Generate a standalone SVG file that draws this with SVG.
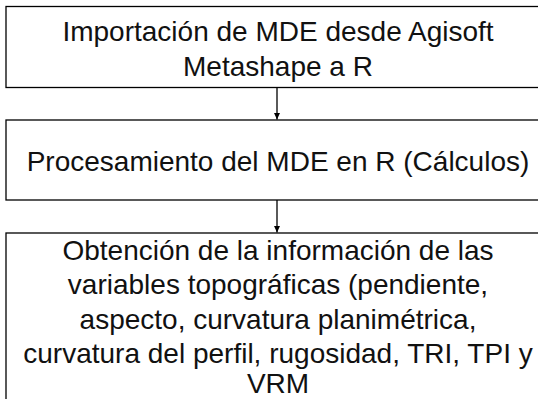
<svg xmlns="http://www.w3.org/2000/svg" width="538" height="399" viewBox="0 0 538 399">
<style>
.box{fill:#fff;stroke:#000;stroke-width:1.3}
.t{font-family:"Liberation Sans",Arial,sans-serif;font-size:28px;fill:#111;text-anchor:middle}
.c{stroke:#000;stroke-width:1.3;fill:none}
</style>
<defs>
<marker id="ah" markerWidth="8" markerHeight="8" refX="7" refY="4" orient="auto" markerUnits="userSpaceOnUse">
<path d="M0,0.8 L7,4 L0,7.2 Z" fill="#000"/>
</marker>
</defs>
<rect width="538" height="399" fill="#fff"/>
<g id="n1">
<rect class="box" x="6" y="6.5" width="542" height="81"/>
<text class="t" x="278" y="40.7">Importación de MDE desde Agisoft</text>
<text class="t" x="278" y="75.7">Metashape a R</text>
</g>
<g id="n2">
<rect class="box" x="6" y="120" width="542" height="80"/>
<text class="t" x="278" y="170.7">Procesamiento del MDE en R (Cálculos)</text>
</g>
<g id="n3">
<rect class="box" x="6" y="233" width="542" height="180"/>
<text class="t" x="278" y="259.5">Obtención de la información de las</text>
<text class="t" x="278" y="294">variables topográficas (pendiente,</text>
<text class="t" x="278" y="328.5">aspecto, curvatura planimétrica,</text>
<text class="t" x="278" y="363">curvatura del perfil, rugosidad, TRI, TPI y</text>
<text class="t" x="278" y="393">VRM</text>
</g>
<g id="connectors">
<line class="c" x1="277" y1="87.5" x2="277" y2="119.5" marker-end="url(#ah)"/>
<line class="c" x1="277" y1="200" x2="277" y2="232.5" marker-end="url(#ah)"/>
</g>
</svg>
